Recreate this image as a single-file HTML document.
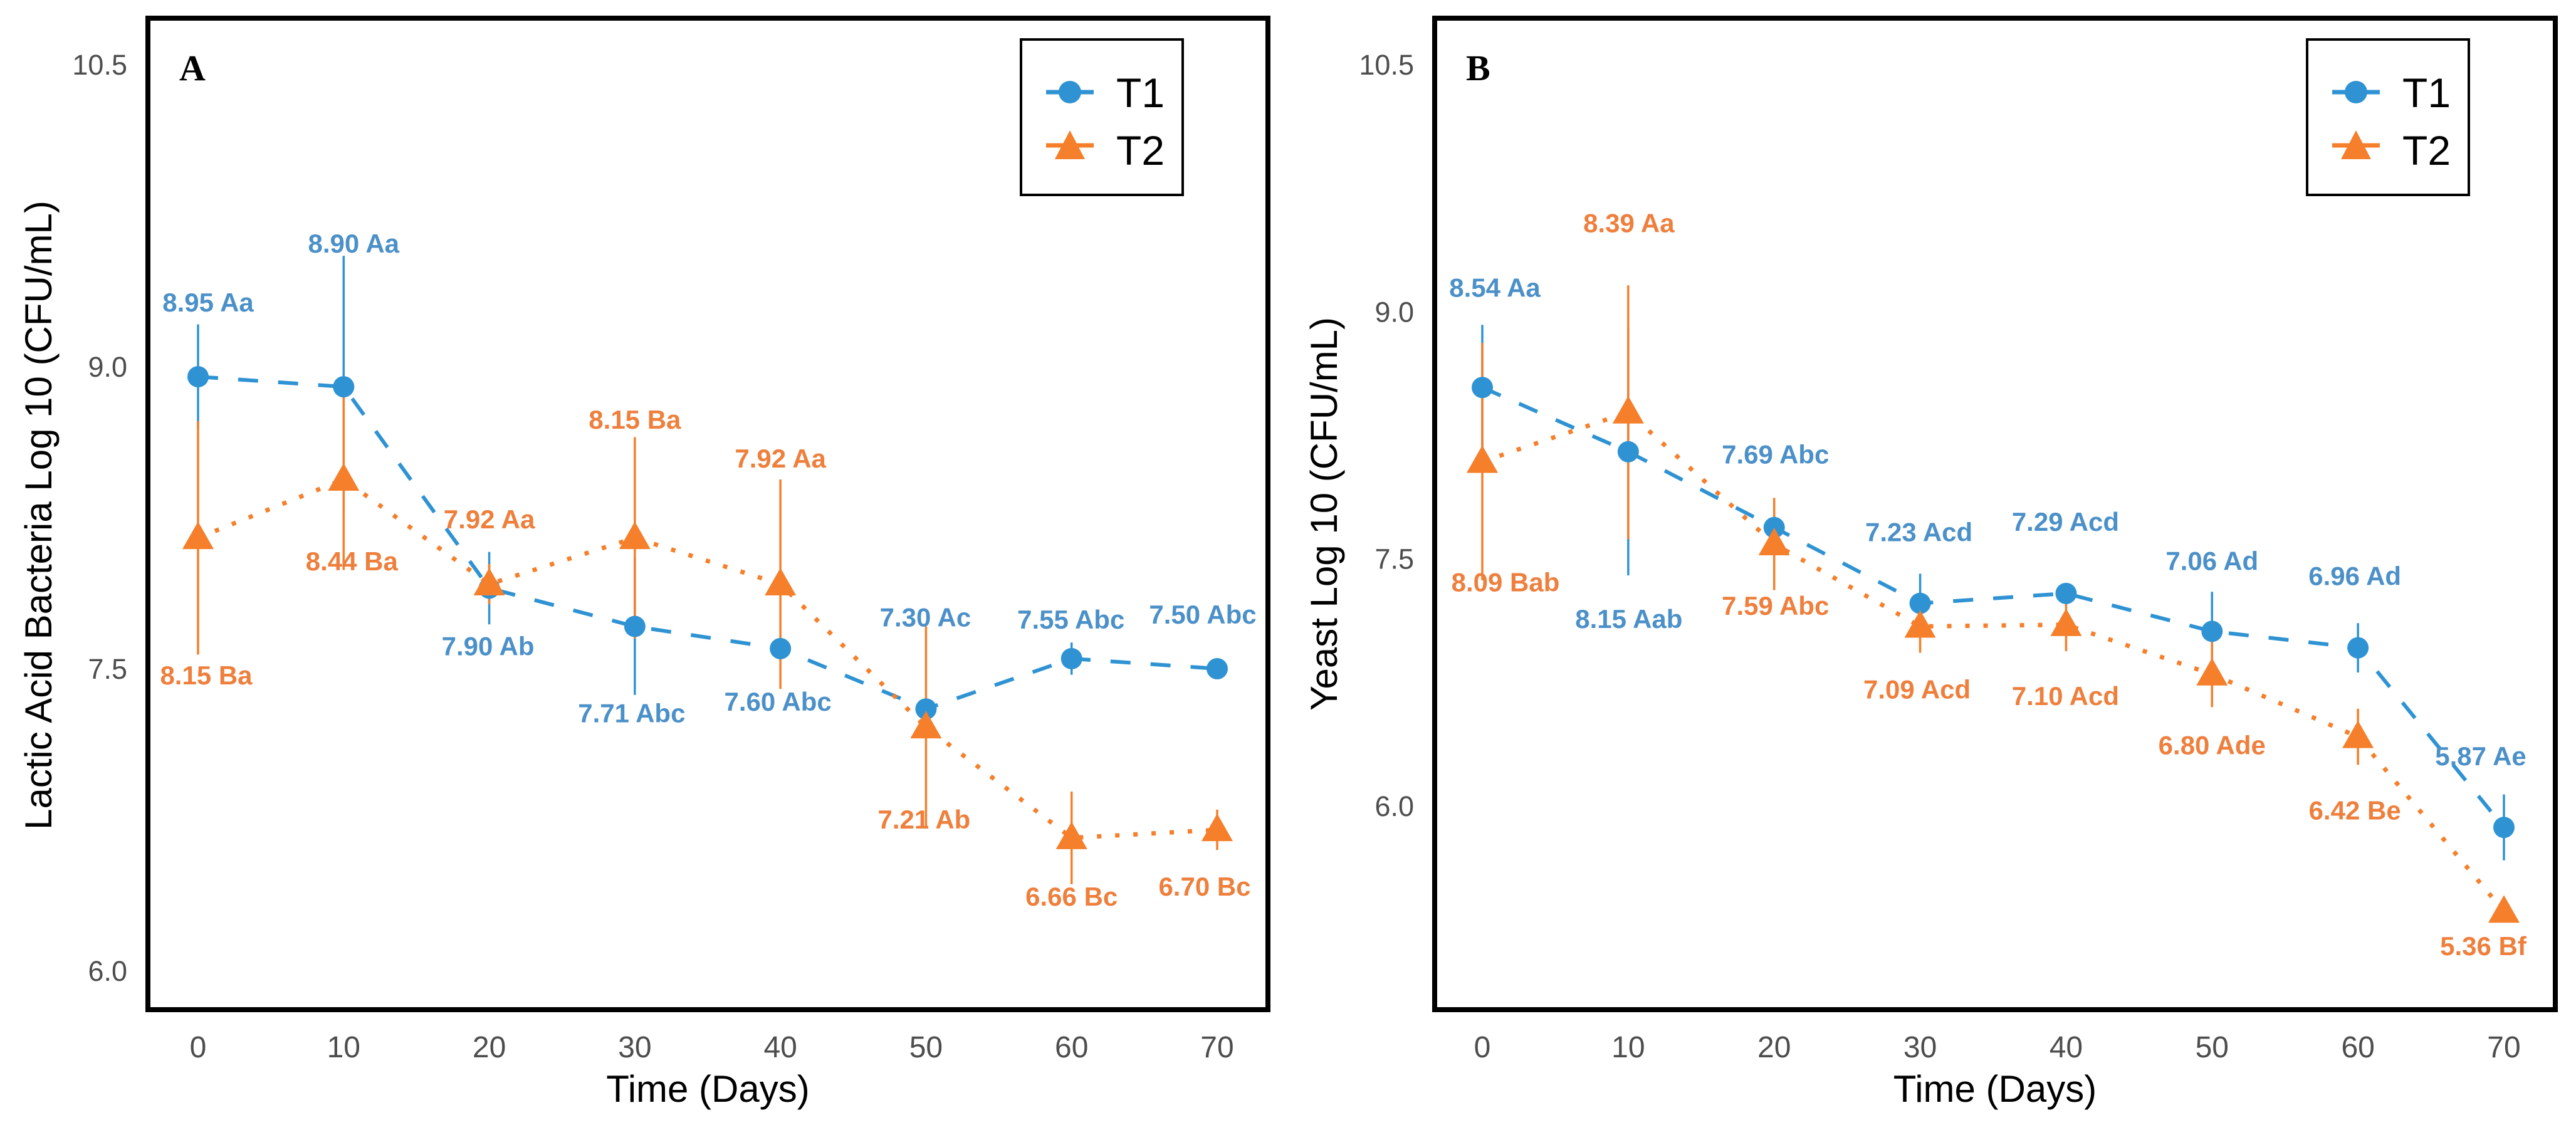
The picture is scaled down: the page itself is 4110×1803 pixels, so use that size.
<!DOCTYPE html>
<html><head><meta charset="utf-8"><style>
html,body{margin:0;padding:0;background:#fff;width:4110px;height:1803px;overflow:hidden}
svg{display:block}
text{font-family:"Liberation Sans",sans-serif}
</style></head><body>
<svg id="chart" width="4110" height="1803" viewBox="0 0 4110 1803" xmlns="http://www.w3.org/2000/svg"></svg>
<script>
const days = [0,10,20,30,40,50,60,70];
const xTicks = [0,10,20,30,40,50,60,70];
const yTicks = [6.0,7.5,9.0,10.5];
const yTickLabels = ["6.0","7.5","9.0","10.5"];
// Panel A: Lactic acid bacteria
const aT1 = [8.95,8.90,7.90,7.71,7.60,7.30,7.55,7.50];
const aT2 = [8.15,8.44,7.92,8.15,7.92,7.21,6.66,6.70];
const aT1sd = [0.26,0.65,0.18,0.34,0.05,0.05,0.08,0.03];
const aT2sd = [0.58,0.45,0.10,0.50,0.52,0.50,0.23,0.10];
const aT1lab = ["8.95 Aa","8.90 Aa","7.90 Ab","7.71 Abc","7.60 Abc","7.30 Ac","7.55 Abc","7.50 Abc"];
const aT2lab = ["8.15 Ba","8.44 Ba","7.92 Aa","8.15 Ba","7.92 Aa","7.21 Ab","6.66 Bc","6.70 Bc"];
// Panel B: Yeast
const bT1 = [8.54,8.15,7.69,7.23,7.29,7.06,6.96,5.87];
const bT2 = [8.09,8.39,7.59,7.09,7.10,6.80,6.42,5.36];
const bT1sd = [0.38,0.75,0.08,0.18,0.05,0.24,0.15,0.20];
const bT2sd = [0.72,0.77,0.28,0.16,0.16,0.20,0.17,0.05];
const bT1lab = ["8.54 Aa","8.15 Aab","7.69 Abc","7.23 Acd","7.29 Acd","7.06 Ad","6.96 Ad","5.87 Ae"];
const bT2lab = ["8.09 Bab","8.39 Aa","7.59 Abc","7.09 Acd","7.10 Acd","6.80 Ade","6.42 Be","5.36 Bf"];

const NS="http://www.w3.org/2000/svg";
const svg=document.getElementById('chart');
const BLUE="#2f93d3", ORANGE="#f57f2a", BLUET="#4b90c8", ORANGET="#ee7f3c";
function mk(tag,attrs,parent){const e=document.createElementNS(NS,tag);for(const k in attrs)e.setAttribute(k,attrs[k]);(parent||svg).appendChild(e);return e;}

function panel(cfg){
  const g=mk('g',{});
  
  
  const X=d=>cfg.x0+(d-0)*(cfg.x70-cfg.x0)/70;
  const Y=v=>cfg.y6-(v-6.0)*(cfg.y6-cfg.y105)/4.5;
  const fr=mk('rect',{x:cfg.fl,y:29,width:cfg.fr-cfg.fl,height:1582,fill:'none',stroke:'#000','stroke-width':8},g);
  
  
  yTicks.forEach((t,i)=>{
    const tx=mk('text',{x:cfg.fl-33,y:Y(t)+16,'text-anchor':'end','font-size':45,fill:'#4d4d4d'},g);
    tx.textContent=yTickLabels[i];
    
    
  });
  xTicks.forEach(t=>{
    const tx=mk('text',{x:X(t),y:1687,'text-anchor':'middle','font-size':48,fill:'#4d4d4d'},g);
    tx.textContent=String(t);
    
    
  });
  const xt=mk('text',{x:(cfg.fl+cfg.fr)/2,y:1758,'text-anchor':'middle','font-size':60,fill:'#000'},g);
  xt.textContent='Time (Days)';
  
  
  const yt=mk('text',{x:0,y:0,'text-anchor':'middle','font-size':60,fill:'#000',transform:`translate(${cfg.ytx},${cfg.yty}) rotate(-90)`},g);
  yt.textContent=cfg.ytitle;
  
  
  const pl=mk('text',{x:cfg.fl+50,y:128,'font-size':58,'font-weight':'bold',style:'font-family:"Liberation Serif",serif',fill:'#000'},g);
  pl.textContent=cfg.letter;
  
  
  const series=[
    {v:cfg.t1,sd:cfg.t1sd,lab:cfg.t1lab,c:BLUE,tc:BLUET,dash:'32 32',w:6,name:'t1',dx:cfg.t1dx,dy:cfg.t1dy,mark:'circle'},
    {v:cfg.t2,sd:cfg.t2sd,lab:cfg.t2lab,c:ORANGE,tc:ORANGET,dash:'7 22',w:7,name:'t2',dx:cfg.t2dx,dy:cfg.t2dy,mark:'tri'}
  ];
  series.forEach(s=>{
    const pts=days.map((d,i)=>X(d)+','+Y(s.v[i])).join(' ');
    const ln=mk('polyline',{points:pts,fill:'none',stroke:s.c,'stroke-width':s.w,'stroke-dasharray':s.dash},g);
    
    
  });
  series.forEach(s=>{
    days.forEach((d,i)=>{
      const eb=mk('line',{x1:X(d),x2:X(d),y1:Y(s.v[i]+s.sd[i]),y2:Y(s.v[i]-s.sd[i]),stroke:s.c,'stroke-width':3.5},g);
      
      
    });
  });
  series.forEach(s=>{
    days.forEach((d,i)=>{
      const cx=X(d),cy=Y(s.v[i]);
      let m;
      if(s.mark==='circle') m=mk('circle',{cx:cx,cy:cy,r:17,fill:s.c},g);
      else m=mk('polygon',{points:`${cx},${cy-26} ${cx-25},${cy+18} ${cx+25},${cy+18}`,fill:s.c},g);
      
      
      const t=mk('text',{x:cx+s.dx[i],y:cy+s.dy[i]+15,'text-anchor':'middle','font-size':42,'font-weight':'bold',fill:s.tc},g);
      t.textContent=s.lab[i];
      
      
    });
  });
  const lg=mk('g',{},g);
  
  
  mk('rect',{x:cfg.lx,y:63,width:258,height:248,fill:'#fff',stroke:'#000','stroke-width':4},lg);
  const mx=cfg.lx+78;
  mk('line',{x1:mx-38,x2:mx+38,y1:147,y2:147,stroke:BLUE,'stroke-width':7},lg);
  mk('circle',{cx:mx,cy:147,r:18,fill:BLUE},lg);
  mk('line',{x1:mx-38,x2:mx+38,y1:232,y2:232,stroke:ORANGE,'stroke-width':7},lg);
  mk('polygon',{points:`${mx},${208} ${mx-24},${254} ${mx+24},${254}`,fill:ORANGE},lg);
  const l1=mk('text',{x:mx+74,y:171,'font-size':66,fill:'#000'},lg);l1.textContent='T1';
  
  
  const l2=mk('text',{x:mx+74,y:263,'font-size':66,fill:'#000'},lg);l2.textContent='T2';
  
  
}

panel({name:'panel-a-lactic-acid-bacteria',letter:'A',fl:236,fr:2023,x0:316,x70:1942,y6:1549,y105:103,
  ytitle:'Lactic Acid Bacteria Log 10 (CFU/mL)',ytx:82,yty:822,lx:1629,
  t1:aT1,t2:aT2,t1sd:aT1sd,t2sd:aT2sd,t1lab:aT1lab,t2lab:aT2lab,
  t1dx:[16,16,-2,-5,-4,-1,-1,-23],t1dy:[-119,-229,92,138,84,-147,-63,-87],
  t2dx:[13,13,0,0,0,-3,0,-20],t2dy:[219,130,-104,-189,-201,147,93,90]});
panel({name:'panel-b-yeast',letter:'B',fl:2289,fr:4077,x0:2365,x70:3995,y6:1286,y105:103,
  ytitle:'Yeast Log 10 (CFU/mL)',ytx:2133,yty:820,lx:3681,
  t1:bT1,t2:bT2,t1sd:bT1sd,t2sd:bT2sd,t1lab:bT1lab,t2lab:bT2lab,
  t1dx:[20,1,2,-2,-1,0,-5,-37],t1dy:[-160,266,-117,-114,-115,-113,-115,-114],
  t2dx:[37,1,2,-5,-1,0,-5,-33],t2dy:[192,-302,98,100,113,113,117,55]});
</script>
</body></html>
